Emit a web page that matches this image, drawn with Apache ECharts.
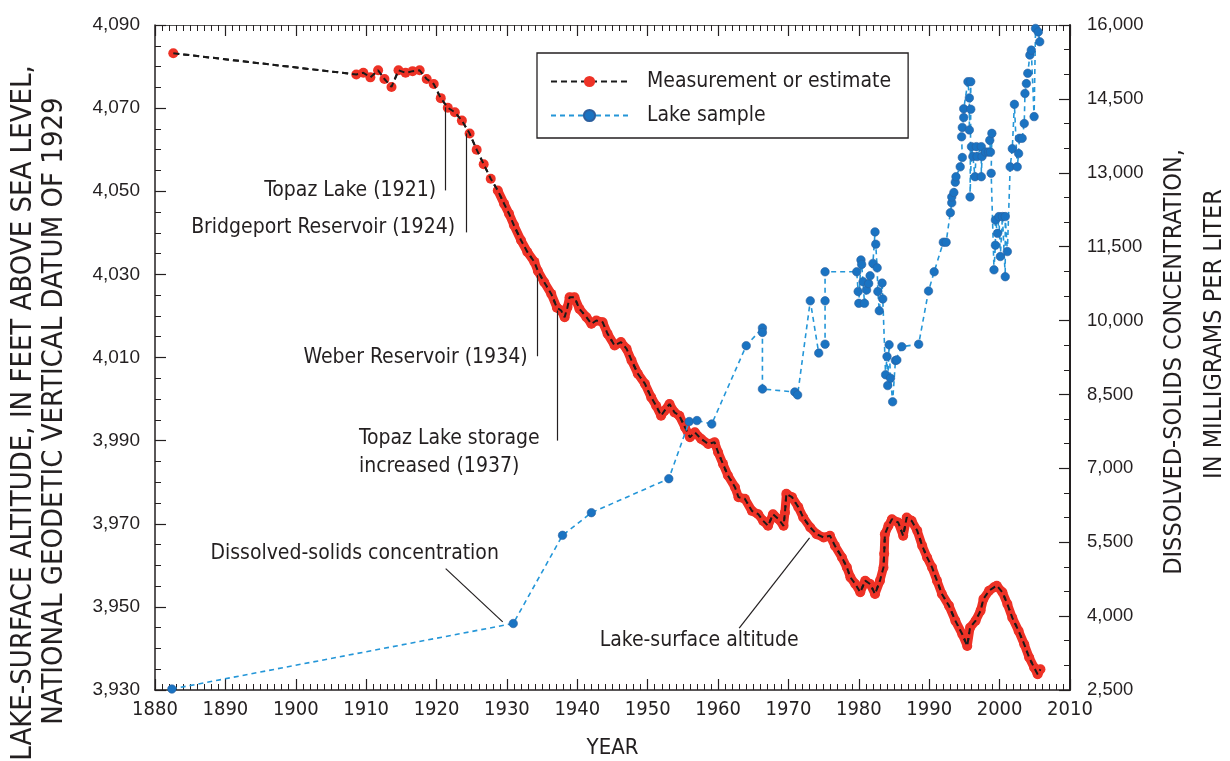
<!DOCTYPE html>
<html><head><meta charset="utf-8">
<script src="https://cdn.jsdelivr.net/npm/echarts@6/dist/echarts.min.js"></script>
<style>html,body{margin:0;padding:0;background:#fff}#c{width:1230px;height:761px}</style>
</head><body><div id="c"></div>
<script>
// Lake-surface altitude (feet) — measurement or estimate
const altitudeYear = [1882.6,1908.6,1909.6,1910.6,1911.7,1912.6,1913.6,1914.6,1915.6,1916.6,1917.6,1918.6,1919.6,1920.6,1921.6,1922.6,1923.6,1924.7,1925.7,1926.7,1927.7,1928.7,1929.6,1930.3,1931.0,1932.0,1932.9,1933.9,1934.4,1935.3,1936.3,1937.1,1937.7,1938.2,1938.6,1938.9,1939.6,1940.3,1941.3,1942.0,1942.7,1943.6,1944.3,1945.3,1946.2,1947.0,1947.7,1948.6,1949.6,1950.5,1951.2,1951.9,1952.4,1953.1,1953.8,1954.5,1955.3,1956.0,1956.7,1957.6,1958.6,1959.5,1960.0,1960.7,1961.4,1962.4,1962.9,1963.8,1964.8,1965.7,1966.4,1967.1,1967.8,1968.6,1969.3,1969.5,1969.7,1970.5,1971.4,1972.1,1973.1,1974.0,1975.0,1975.9,1976.6,1977.6,1978.3,1978.8,1979.5,1980.2,1980.9,1981.6,1982.3,1983.0,1983.5,1983.6,1983.7,1984.2,1984.7,1985.6,1986.3,1986.8,1987.5,1988.3,1989.0,1989.7,1990.4,1991.1,1991.8,1992.8,1993.7,1994.7,1995.4,1995.8,1996.6,1997.3,1997.7,1998.5,1999.2,1999.6,2000.4,2001.1,2001.8,2002.7,2003.5,2004.2,2004.9,2005.4,2005.8];
const altitudeFeet = [4083.2,4078.1,4078.5,4077.4,4079.1,4077.0,4075.1,4079.1,4078.5,4078.9,4079.1,4077.0,4075.8,4072.4,4070.1,4069.0,4067.0,4063.9,4060.0,4056.5,4053.0,4050.2,4047.0,4044.6,4041.8,4038.2,4035.4,4033.0,4030.8,4028.1,4025.3,4022.0,4021.3,4019.7,4022.1,4024.5,4024.5,4021.7,4019.7,4018.1,4018.9,4018.5,4015.7,4012.9,4013.7,4012.1,4009.3,4006.1,4003.7,4000.4,3998.4,3996.0,3997.2,3998.8,3996.8,3996.0,3993.2,3990.8,3992.0,3990.4,3989.2,3989.6,3987.2,3984.4,3981.6,3978.8,3976.4,3976.0,3973.1,3972.3,3970.7,3969.5,3972.3,3971.1,3969.5,3972.7,3977.2,3976.4,3974.0,3971.5,3969.1,3967.5,3966.7,3967.1,3964.7,3961.9,3959.5,3957.1,3955.5,3953.5,3956.3,3955.5,3953.1,3956.3,3959.5,3962.8,3967.5,3969.5,3971.1,3970.3,3967.1,3971.5,3970.7,3968.3,3964.7,3961.9,3959.5,3956.3,3953.1,3950.3,3946.7,3943.4,3940.6,3945.0,3946.7,3949.1,3951.9,3953.9,3954.7,3955.1,3953.5,3950.7,3947.4,3944.2,3941.0,3937.8,3935.4,3933.8,3935.0];
// Year from which measurements are frequent enough to form a continuous band of dots
const denseFromYear = 1928.5;

// Dissolved-solids concentration (mg/L) — lake samples
const sampleYear = [1882.4,1930.9,1937.9,1942.0,1953.0,1955.9,1957.0,1959.1,1964.0,1966.3,1966.3,1966.3,1970.9,1971.3,1973.1,1974.3,1975.2,1975.2,1975.2,1979.7,1979.9,1980.0,1980.3,1980.4,1980.6,1980.8,1981.1,1981.4,1981.6,1982.0,1982.3,1982.4,1982.6,1982.7,1982.9,1983.3,1983.4,1983.8,1984.0,1984.1,1984.3,1984.5,1984.8,1985.2,1985.4,1986.1,1988.5,1989.9,1990.7,1992.0,1992.4,1993.0,1993.2,1993.2,1993.5,1993.7,1993.8,1994.4,1994.7,1994.6,1994.7,1994.9,1994.9,1995.5,1995.7,1995.7,1995.9,1995.9,1995.8,1996.0,1996.2,1996.5,1996.7,1996.8,1997.4,1997.4,1997.5,1998.0,1998.4,1998.6,1998.7,1998.9,1998.8,1999.2,1999.4,1999.4,1999.7,1999.9,2000.1,2000.4,2000.8,2000.8,2001.1,2001.5,2001.8,2002.1,2002.5,2002.7,2002.8,2003.2,2003.5,2003.6,2003.8,2004.0,2004.3,2004.5,2004.9,2005.1,2005.5,2005.7];
const sampleConc = [2520,3850,5640,6100,6790,7950,7970,7900,9490,9850,9760,8610,8550,8490,10400,9340,9520,10400,10990,10990,10590,10350,11230,11140,10790,10350,10620,10750,10910,11160,11800,11550,11070,10590,10200,10760,10440,8900,9270,8680,9510,8830,8350,9190,9200,9470,9520,10600,10990,11590,11590,12190,12390,12510,12600,12810,12920,13120,13310,13730,13920,14120,14300,14850,14520,13870,14850,14290,12510,13530,13330,12920,13530,13330,13530,12920,13330,13420,13420,13660,13420,13800,12990,11030,11530,12040,11770,12110,11300,12110,10890,12110,11400,13120,13490,14390,13120,13390,13700,13700,14000,14610,14810,15020,15390,15490,14140,15930,15860,15660];

// Annotations: text, anchor year, anchor altitude, side the text sits on
const noteTexts = ['Topaz Lake (1921)','Bridgeport Reservoir (1924)','Weber Reservoir (1934)','Topaz Lake storage\nincreased (1937)','Dissolved-solids concentration','Lake-surface altitude'];
const noteYear = [1920.0,1922.7,1933.0,1908.9,1887.8,1943.1];
const noteAlt = [4050.2,4041.3,4010.0,3987.1,3962.8,3941.8];
const noteSide = ['left','left','left','right','right','right'];
// Leader lines [year1, alt1, year2, alt2]
const leaderLines = [[1921.3,4070.2,1921.3,4050.2],[1924.2,4063.9,1924.2,4040.1],[1934.3,4029.8,1934.3,4010.3],[1937.1,4021.3,1937.1,3990.0],[1921.3,3959.2,1929.4,3946.4],[1963.0,3944.9,1973.0,3966.6]];

const COND = "'Liberation Sans Narrow','DejaVu Sans Condensed','Roboto',sans-serif";
const REG = "'Liberation Sans','Arial',sans-serif";
const INK = '#231f20';
const RED = '#ee3226';
const fmt = v => v.toLocaleString('en-US');

const altData = altitudeYear.map((y,i)=>[y, altitudeFeet[i]]);
const denseData = altData.filter(d => d[0] >= denseFromYear);
const sampleData = sampleYear.map((y,i)=>[y, sampleConc[i]]);

const axisCommonX = {
  type:'value', min:1880, max:2010, interval:10,
  axisLine:{show:true, lineStyle:{color:INK, width:1.5}},
  axisTick:{show:true, inside:true, length:11, lineStyle:{color:INK, width:1.2}},
  minorTick:{show:true, splitNumber:10, length:6, lineStyle:{color:INK, width:1}},
  splitLine:{show:false}
};

const chart = echarts.init(document.getElementById('c'), null, {renderer:'canvas'});
chart.setOption({
  animation:false,
  backgroundColor:'#ffffff',
  grid:{left:155, right:160, top:25, bottom:71, containLabel:false, outerBoundsMode:'none'},
  legend:{
    left:537, top:53, orient:'vertical',
    data:['Measurement or estimate','Lake sample'],
    itemWidth:77, itemHeight:14, itemGap:13,
    padding:[18,17,12,13],
    borderColor:INK, borderWidth:1.3,
    textStyle:{fontFamily:COND, fontSize:21, color:INK, padding:[0,0,0,14]},
    selectedMode:false
  },
  xAxis:[
    Object.assign({}, axisCommonX, {
      position:'bottom',
      axisLabel:{fontFamily:COND, fontSize:20, color:INK, margin:10, formatter:v=>String(v)},
      name:'YEAR', nameLocation:'middle', nameGap:47,
      nameTextStyle:{fontFamily:COND, fontSize:22, color:INK}
    }),
    Object.assign({}, axisCommonX, {
      position:'top', axisLabel:{show:false},
      axisLine:{show:true, lineStyle:{color:'#555', width:1.2}}
    })
  ],
  yAxis:[
    {
      type:'value', min:3930, max:4090, interval:20, position:'left',
      axisLine:{show:true, lineStyle:{color:INK, width:1.5}},
      axisTick:{show:true, inside:true, length:11, lineStyle:{color:INK, width:1.2}},
      minorTick:{show:true, splitNumber:4, length:6, lineStyle:{color:INK, width:1}},
      splitLine:{show:false},
      axisLabel:{fontFamily:REG, fontSize:19, color:INK, margin:15, formatter:fmt}
    },
    {
      type:'value', min:2500, max:16000, interval:1500, position:'right',
      axisLine:{show:true, lineStyle:{color:INK, width:2}},
      axisTick:{show:true, inside:true, length:11, lineStyle:{color:INK, width:1.2}},
      minorTick:{show:true, splitNumber:3, length:6, lineStyle:{color:INK, width:1}},
      splitLine:{show:false},
      axisLabel:{fontFamily:REG, fontSize:18.5, color:INK, margin:17, formatter:fmt}
    }
  ],
  graphic:[
    {type:'text', x:23, y:413, rotation:Math.PI/2, style:{text:'LAKE-SURFACE ALTITUDE, IN FEET ABOVE SEA LEVEL,', fontFamily:COND, fontSize:29, fill:INK, align:'center', verticalAlign:'middle'}},
    {type:'text', x:54, y:411, rotation:Math.PI/2, style:{text:'NATIONAL GEODETIC VERTICAL DATUM OF 1929', fontFamily:COND, fontSize:29, fill:INK, align:'center', verticalAlign:'middle'}},
    {type:'text', x:1174, y:362, rotation:Math.PI/2, style:{text:'DISSOLVED-SOLIDS CONCENTRATION,', fontFamily:COND, fontSize:25, fill:INK, align:'center', verticalAlign:'middle'}},
    {type:'text', x:1214, y:334, rotation:Math.PI/2, style:{text:'IN MILLIGRAMS PER LITER', fontFamily:COND, fontSize:25, fill:INK, align:'center', verticalAlign:'middle'}}
  ],
  series:[
    {
      name:'altitude-band', type:'line', xAxisIndex:0, yAxisIndex:0,
      data:denseData, showSymbol:false, symbol:'none',
      lineStyle:{color:RED, width:9, cap:'round', join:'round'},
      z:2, silent:true
    },
    {
      name:'Measurement or estimate', type:'line', xAxisIndex:0, yAxisIndex:0,
      data:altData, symbol:'circle', symbolSize:10, showAllSymbol:true,
      itemStyle:{color:RED},
      lineStyle:{color:'#1a1a1a', width:2, type:[6,4]},
      z:3, silent:true
    },
    {
      name:'altitude-line', type:'line', xAxisIndex:0, yAxisIndex:0,
      data:altData, showSymbol:false, symbol:'none',
      lineStyle:{color:'#1a1a1a', width:2, type:[6,4]},
      z:4, silent:true,
      markLine:{
        silent:true, symbol:['none','none'], animation:false,
        label:{show:false},
        lineStyle:{color:INK, width:1.2, type:'solid'},
        data: leaderLines.map(l=>[{coord:[l[0],l[1]]},{coord:[l[2],l[3]]}])
      },
      markPoint:{
        silent:true, symbol:'rect', symbolSize:1, itemStyle:{color:'rgba(0,0,0,0)'},
        label:{show:true, distance:0, fontFamily:COND, fontSize:21, color:INK, lineHeight:28},
        data: noteTexts.map((t,i)=>({coord:[noteYear[i], noteAlt[i]], value:t, label:{formatter:t, position:noteSide[i]}}))
      }
    },
    {
      name:'Lake sample', type:'line', xAxisIndex:0, yAxisIndex:1,
      data:sampleData, symbol:'circle', symbolSize:8.5, showAllSymbol:true,
      itemStyle:{color:'#1a73c2', borderColor:'#2c5f9e', borderWidth:0.6},
      lineStyle:{color:'#2496d8', width:1.6, type:[5,4]},
      z:5, silent:true
    }
  ]
});
</script>
</body></html>
